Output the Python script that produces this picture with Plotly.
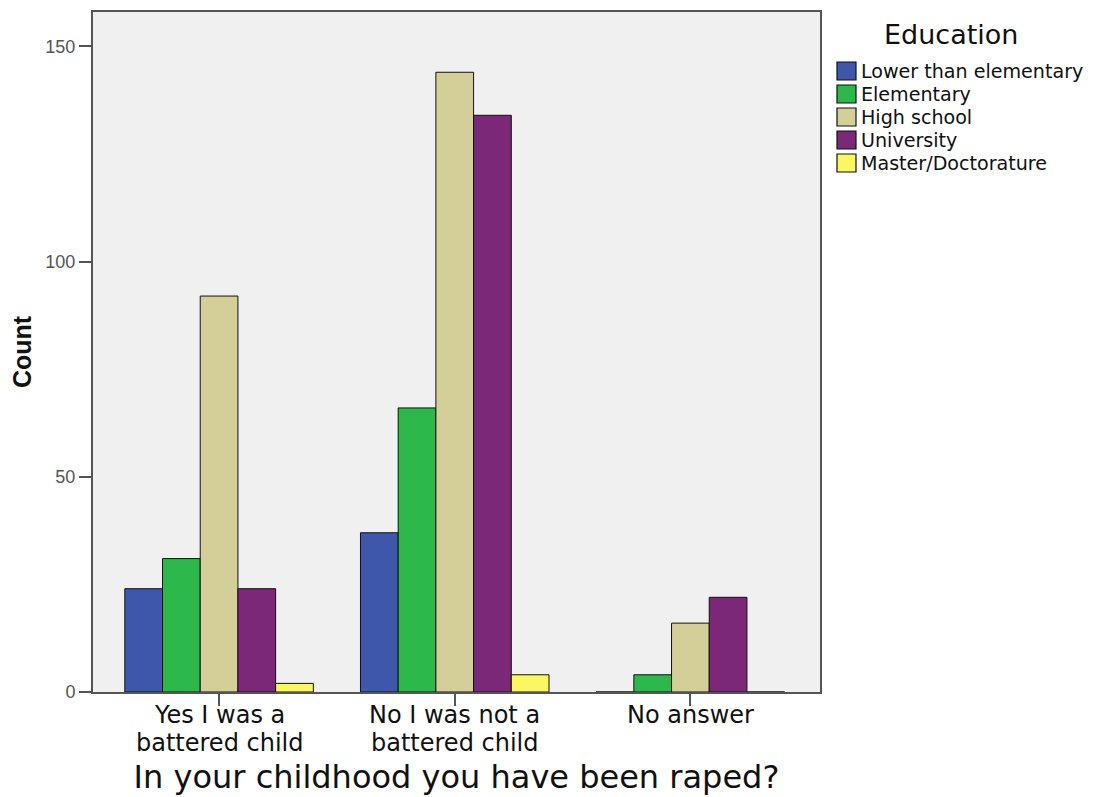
import plotly.graph_objects as go

# ---- data ----
categories = ["Yes I was a<br>battered child", "No I was not a<br>battered child", "No answer"]
series_names = ["Lower than elementary", "Elementary", "High school", "University", "Master/Doctorature"]
lower_than_elementary = [24, 37, 0]
elementary = [31, 66, 4]
high_school = [92, 144, 16]
university = [24, 134, 22]
master_doctorature = [2, 4, 0]
y_tick_values = [0, 50, 100, 150]
legend_title = "Education"
x_title = "In your childhood you have been raped?"
y_title = "Count"

# ---- style ----
colors = ["#3E57AB", "#2DB84C", "#D4CF98", "#7C2879", "#FAF763"]
W, H = 1095, 797
OFF = 8  # page body margin
ML, MR, MT, MB = 85, 283, 4, 113
PW, PH = W - ML - MR, H - MT - MB
FONT = "DejaVu Sans"


def px_to_paper(px, py):
    # px, py: screen pixel coordinates
    return (px - OFF - ML) / PW, (H - MB - (py - OFF)) / PH


values = [lower_than_elementary, elementary, high_school, university, master_doctorature]
xpos = list(range(len(categories)))

fig = go.Figure()
for name, vals, col in zip(series_names, values, colors):
    fig.add_trace(go.Bar(
        x=xpos, y=vals, name=name,
        marker=dict(color=col, line=dict(color="#111111", width=1)),
        showlegend=False,
    ))

shapes = []
annotations = []

# compact SPSS-style legend: swatch shapes + real text
tx, ty = px_to_paper(951, 35)
annotations.append(dict(text=legend_title, x=tx, y=ty, xref="paper", yref="paper",
                        xanchor="center", yanchor="middle", showarrow=False,
                        font=dict(family=FONT, size=27, color="#111")))
for i, (name, col) in enumerate(zip(series_names, colors)):
    cy = 71 + i * 23
    x0, y0 = px_to_paper(837, cy + 9)
    x1, y1 = px_to_paper(856, cy - 9)
    shapes.append(dict(type="rect", xref="paper", yref="paper", x0=x0, y0=y0, x1=x1, y1=y1,
                       fillcolor=col, line=dict(color="#111", width=1.2)))
    lx, ly = px_to_paper(859, cy)
    annotations.append(dict(text=name, x=lx, y=ly, xref="paper", yref="paper",
                            xanchor="left", yanchor="middle", showarrow=False,
                            font=dict(family=FONT, size=19.1, color="#111")))

# category labels with tight SPSS line spacing (one text per line)
for xi, label in zip(xpos, categories):
    for j, line in enumerate(label.split("<br>")):
        _, ly = px_to_paper(0, 715 + j * 28)
        annotations.append(dict(text=line, x=xi, y=ly, xref="x", yref="paper",
                                xanchor="center", yanchor="middle", showarrow=False,
                                font=dict(family=FONT, size=24, color="#111")))

fig.update_layout(
    width=W, height=H,
    margin=dict(l=ML, r=MR, t=MT, b=MB, autoexpand=False),
    paper_bgcolor="white",
    plot_bgcolor="#F0F0F0",
    barmode="group", bargap=0.2, bargroupgap=0,
    showlegend=False,
    shapes=shapes,
    annotations=annotations,
    xaxis=dict(
        range=[-0.535, 2.55],
        tickmode="array", tickvals=xpos, showticklabels=False,
        ticks="outside", ticklen=12, tickcolor="#555", tickwidth=1.5,
        showline=True, linecolor="#555", linewidth=1.5, mirror=True,
        showgrid=False, zeroline=False, automargin=False,
        title=dict(text=x_title, font=dict(family=FONT, size=32, color="#111"), standoff=61),
    ),
    yaxis=dict(
        range=[0, 158],
        tickvals=y_tick_values,
        ticks="outside", ticklen=12, tickcolor="#555", tickwidth=1.5,
        showline=True, linecolor="#555", linewidth=2, mirror=True,
        showgrid=False, zeroline=False, automargin=False,
        tickfont=dict(family="Liberation Sans", size=18, color="#555"),
        title=dict(text="<b>" + y_title + "</b>",
                   font=dict(family="Liberation Sans", size=25, color="#111"), standoff=12),
    ),
)

fig.write_html("out.html")
